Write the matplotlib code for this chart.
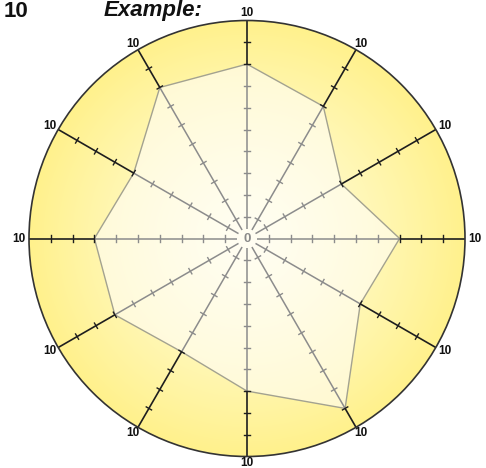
import numpy as np
import matplotlib
matplotlib.use('Agg')
import matplotlib.pyplot as plt
from matplotlib.patches import Circle, Polygon

# Data: one value per spoke, clockwise starting at the top
values = [8, 7, 5, 7, 6, 9, 7, 6, 7, 7, 6, 8]
max_value = 10
spoke_labels = ['10'] * 12
center_label = '0'
title_left = '10'
title_main = 'Example:'

plt.rcParams['font.family'] = ['Liberation Sans', 'DejaVu Sans']

W, H = 486, 468
fig = plt.figure(figsize=(W / 100, H / 100), dpi=100)
ax = fig.add_axes([0, 0, 1, 1])

# pixel geometry of the chart
cx, cy, unit = 247.0, 238.5, 21.8
ax.set_xlim(-cx / unit, (W - cx) / unit)
ax.set_ylim(-(H - cy) / unit, cy / unit)
ax.set_aspect('equal')
ax.axis('off')

n = len(values)
angles = np.deg2rad(90 - 360 / n * np.arange(n))

# outer disc with radial gradient
grid = np.linspace(-max_value, max_value, 500)
gx, gy = np.meshgrid(grid, grid)
rr = np.clip(np.hypot(gx, gy) / max_value, 0, 1)
c0 = np.array([255, 253, 222]) / 255
c1 = np.array([255, 241, 140]) / 255
t = rr[..., None] ** 1.3
img = c0 * (1 - t) + c1 * t
disc = Circle((0, 0), max_value, facecolor='none', edgecolor='none')
ax.add_patch(disc)
im = ax.imshow(img, extent=(-max_value, max_value, -max_value, max_value),
               origin='lower', zorder=1, interpolation='bilinear')
im.set_clip_path(disc)

# data polygon with its own light gradient
px = np.array(values) * np.cos(angles)
py = np.array(values) * np.sin(angles)
poly = Polygon(np.column_stack([px, py]), closed=True, facecolor='none',
               edgecolor='#a3a290', linewidth=1.0, zorder=3)
ax.add_patch(poly)
p0 = np.array([255, 254, 242]) / 255
p1 = np.array([255, 249, 208]) / 255
tp = np.clip(rr[..., None] / 0.9, 0, 1) ** 1.2
img2 = p0 * (1 - tp) + p1 * tp
im2 = ax.imshow(img2, extent=(-max_value, max_value, -max_value, max_value),
                origin='lower', zorder=2, interpolation='bilinear')
im2.set_clip_path(poly)

# spokes and ticks
gray = '#8c8c8c'
dark = '#1e1e1e'
tick_half = 0.14
for a, v in zip(angles, values):
    ca, sa = np.cos(a), np.sin(a)
    ax.plot([0.45 * ca, v * ca], [0.45 * sa, v * sa], color=gray, lw=1.1, zorder=4,
            solid_capstyle='butt')
    ax.plot([v * ca, max_value * ca], [v * sa, max_value * sa], color=dark, lw=1.2,
            zorder=4, solid_capstyle='butt')
    for k in range(1, max_value):
        col = dark if k >= v else gray
        ax.plot([k * ca - tick_half * sa, k * ca + tick_half * sa],
                [k * sa + tick_half * ca, k * sa - tick_half * ca],
                color=col, lw=1.0, zorder=4)

# outer ring
ax.add_patch(Circle((0, 0), max_value, facecolor='none', edgecolor='#333333',
                    lw=1.2, zorder=5))

# spoke end labels
half_w, half_h, gap = 7.5 / unit, 4.5 / unit, 2.5 / unit
for a, lab in zip(angles, spoke_labels):
    ca, sa = np.cos(a), np.sin(a)
    x = (max_value + gap) * ca + half_w * ca
    y = (max_value + gap) * sa + half_h * sa
    ax.text(x, y, lab, ha='center', va='center', fontsize=8.5, fontweight='bold',
            color='#111111', zorder=6)

ax.text(0, 0, center_label, ha='center', va='center', fontsize=9.5,
        fontweight='bold', color='#8a8a8a', zorder=6)

# titles at the top edge
fig.text(4 / W, 1 - 17 / H, title_left, ha='left', va='baseline', fontsize=16,
         fontweight='bold', color='#111111')
fig.text(104 / W, 1 - 16 / H, title_main, ha='left', va='baseline', fontsize=16,
         fontweight='bold', fontstyle='italic', color='#111111')

fig.savefig('out.png', dpi=100)
